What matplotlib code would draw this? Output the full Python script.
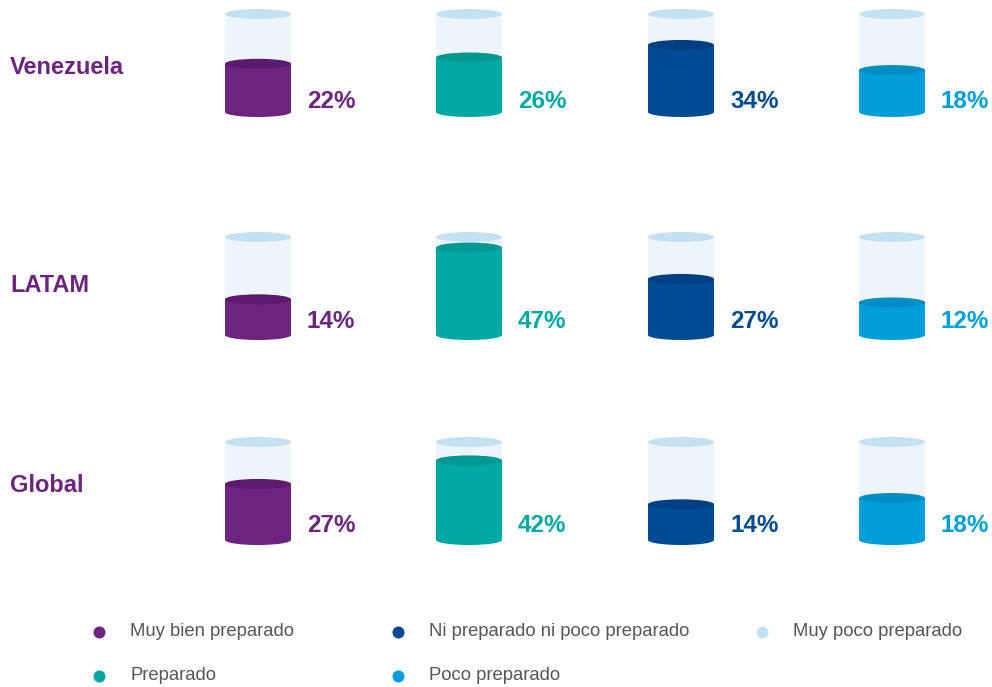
import numpy as np
import matplotlib.pyplot as plt
from matplotlib.patches import Rectangle, Ellipse

plt.rcParams['font.family'] = ['Liberation Sans', 'DejaVu Sans']

# data
regions = ['Venezuela', 'LATAM', 'Global']
categories = ['Muy bien preparado', 'Preparado', 'Ni preparado ni poco preparado',
              'Poco preparado', 'Muy poco preparado']
venezuela = [22, 26, 34, 18]
latam = [14, 47, 27, 12]
global_ = [27, 42, 14, 18]
values = [venezuela, latam, global_]

colors = ['#6C2480', '#00A9A4', '#004B93', '#009FDB', '#C4E1F3']
tops = ['#5C1A6E', '#009892', '#003E85', '#008CC4']
glass_body = '#EDF5FA'
glass_top = '#C4E1F3'
purple = '#6C2480'
gray = '#555555'

fig = plt.figure(figsize=(9.92, 6.87), dpi=100)
ax = fig.add_axes([0, 0, 1, 1])
ax.set_xlim(0, 992)
ax.set_ylim(687, 0)
ax.axis('off')

col_x = [258, 469, 681, 892]
row_top = [14, 237, 442]
label_y = [68, 286, 486]
pct_off = [11, 14, 15]
cyl_h = 98
cyl_w = 66
ell_h = 10


def fill_frac(v):
    return 0.14 + 1.6 * v / 100.0


for r, name in enumerate(regions):
    top = row_top[r]
    bottom = top + cyl_h
    ax.text(10, label_y[r], name, color=purple, fontsize=17,
            fontweight='bold', ha='left', va='center')
    for c, v in enumerate(values[r]):
        cx = col_x[c]
        # glass
        ax.add_patch(Ellipse((cx, bottom), cyl_w, ell_h, color=glass_body, lw=0))
        ax.add_patch(Rectangle((cx - cyl_w / 2, top), cyl_w, cyl_h, color=glass_body, lw=0))
        ax.add_patch(Ellipse((cx, top), cyl_w, ell_h, color=glass_top, lw=0))
        # liquid
        ftop = bottom - fill_frac(v) * cyl_h
        ax.add_patch(Ellipse((cx, bottom), cyl_w, ell_h, color=colors[c], lw=0))
        ax.add_patch(Rectangle((cx - cyl_w / 2, ftop), cyl_w, bottom - ftop, color=colors[c], lw=0))
        ax.add_patch(Ellipse((cx, ftop), cyl_w, ell_h, color=tops[c], lw=0))
        ax.text(cx + 49, bottom - pct_off[r], f'{v}%', color=colors[c], fontsize=17.5,
                fontweight='bold', ha='left', va='center')

# legend
leg_x = [99, 99, 398, 398, 762]
leg_y = [632, 676, 632, 676, 632]
for i, cat in enumerate(categories):
    ax.scatter(leg_x[i], leg_y[i], s=75, color=colors[i], lw=0)
    ax.text(leg_x[i] + 31, leg_y[i] - 1, cat, color=gray, fontsize=13.3,
            ha='left', va='center')

fig.savefig('out.png', dpi=100)
